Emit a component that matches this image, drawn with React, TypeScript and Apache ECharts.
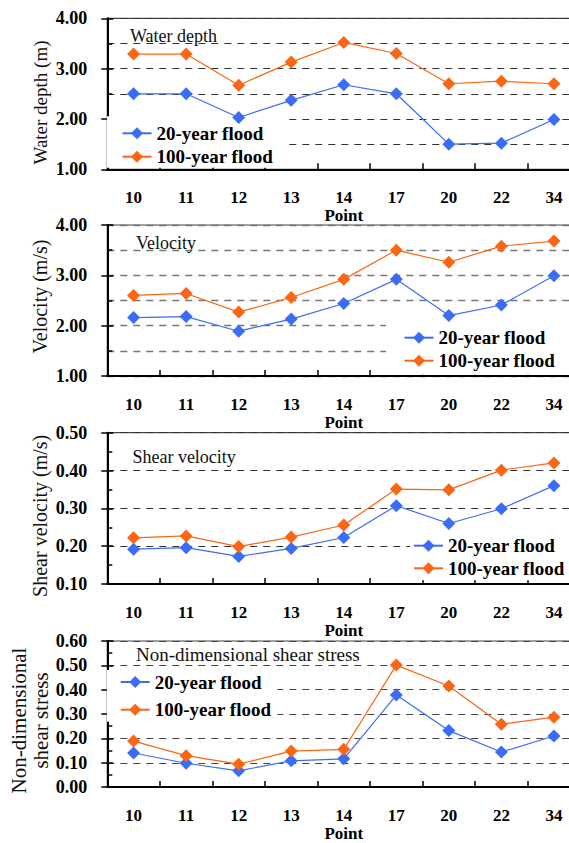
import React, { useEffect, useRef } from "react";
import * as echarts from "echarts";

const categories = ["10", "11", "12", "13", "14", "17", "20", "22", "34"];
const seriesNames = ["20-year flood", "100-year flood"];

const depth20 = [2.5, 2.5, 2.03, 2.37, 2.68, 2.5, 1.5, 1.52, 1.99];
const depth100 = [3.29, 3.29, 2.67, 3.13, 3.52, 3.3, 2.7, 2.75, 2.7];
const velocity20 = [2.16, 2.18, 1.89, 2.13, 2.44, 2.92, 2.2, 2.41, 2.99];
const velocity100 = [2.6, 2.64, 2.27, 2.56, 2.92, 3.5, 3.26, 3.58, 3.68];
const shear20 = [0.192, 0.196, 0.173, 0.194, 0.223, 0.307, 0.26, 0.299, 0.36];
const shear100 = [0.222, 0.227, 0.199, 0.224, 0.256, 0.351, 0.349, 0.401, 0.42];
const nds20 = [0.14, 0.098, 0.067, 0.108, 0.116, 0.378, 0.232, 0.144, 0.21];
const nds100 = [0.189, 0.129, 0.094, 0.148, 0.155, 0.501, 0.415, 0.258, 0.287];

const panelTitles = ["Water depth", "Velocity", "Shear velocity", "Non-dimensional shear stress"];
const axisTitles = ["Water depth (m)", "Velocity (m/s)", "Shear velocity (m/s)", "Non-dimensional\nshear stress"];
const yMins = [1, 1, 0.1, 0];
const yMaxs = [4, 4, 0.5, 0.6];
const yIntervals = [1, 1, 0.1, 0.1];

const FONT = "Liberation Serif, Times New Roman, serif";
const BLUE = "#3b6cf5";
const ORANGE = "#fa6614";

export default function App() {
  const ref = useRef<HTMLDivElement>(null);

  useEffect(() => {
    if (!ref.current) return;
    const chart = echarts.init(ref.current, undefined, { renderer: "svg" });

    const data20 = [depth20, velocity20, shear20, nds20];
    const data100 = [depth100, velocity100, shear100, nds100];

    const layout = [
      { top: 18.3, height: 151, grid: "#333", gw: 1, minorGrid: true },
      { top: 225, height: 151, grid: "#777", gw: 1.4, minorGrid: true },
      { top: 432.7, height: 151.3, grid: "#333", gw: 1, minorGrid: false },
      { top: 641, height: 151.3, grid: "#444", gw: 1, minorGrid: false },
    ];
    const titlePos = [
      { left: 130, top: 27, size: 18 },
      { left: 136, top: 234.3, size: 18 },
      { left: 132.4, top: 447.7, size: 18 },
      { left: 136, top: 645, size: 19 },
    ];
    const yTitlePos = [
      { x: 40, y: 102.5, size: 19 },
      { x: 40, y: 296.5, size: 20 },
      { x: 40, y: 515.8, size: 20 },
      { x: 30.4, y: 720.5, size: 21 },
    ];
    const legendPos = [
      { left: 107, top: 116.3, padding: [7, 14, 1, 14.5], gap: 3.4 },
      { left: 386, top: 321, padding: [6.7, 30, 4, 17.5], gap: 3 },
      { left: 410, top: 530.7, padding: [5, 20, 2, 3], gap: 2.6 },
      { left: 107, top: 670, padding: [2, 6, 2, 12.7], gap: 7.7 },
    ];

    const grids = layout.map((p) => ({
      left: 107.3,
      right: 0.8,
      top: p.top,
      height: p.height,
      show: true,
      borderColor: "#444",
      borderWidth: 1.2,
      backgroundColor: "transparent",
    }));

    const xAxes = layout.map((_, i) => ({
      gridIndex: i,
      type: "category",
      data: categories,
      boundaryGap: true,
      axisLine: { show: true, lineStyle: { color: "#000", width: 2 } },
      axisTick: { show: true, inside: true, length: 6, lineStyle: { color: "#000", width: 1.5 } },
      axisLabel: { margin: 20, fontSize: 17, fontWeight: "bold", fontFamily: FONT, color: "#000" },
      name: "Point",
      nameLocation: "middle",
      nameGap: 36,
      nameTextStyle: { fontSize: 17, fontWeight: "bold", fontFamily: FONT, color: "#000" },
      splitLine: { show: false },
    }));

    const yMain = layout.map((p, i) => ({
      gridIndex: i,
      type: "value",
      position: "left",
      min: yMins[i],
      max: yMaxs[i],
      interval: yIntervals[i],
      axisLine: { show: true, lineStyle: { color: "#000", width: 2 } },
      axisTick: { show: true, inside: true, length: 6, lineStyle: { color: "#000", width: 1.5 } },
      minorTick: { show: true, splitNumber: 2, length: 5, lineStyle: { color: "#000", width: 1.5 } },
      axisLabel: {
        margin: 20,
        fontSize: 18,
        fontWeight: "bold",
        fontFamily: FONT,
        color: "#000",
        formatter: (v: number) => v.toFixed(2),
      },
      splitLine: { show: true, lineStyle: { type: [7, 6], color: p.grid, width: p.gw } },
      minorSplitLine: { show: p.minorGrid, lineStyle: { type: [7, 6], color: p.grid, width: p.gw } },
    }));

    const yHelper = layout.map((_, i) => ({
      gridIndex: i,
      type: "value",
      position: "left",
      offset: 0,
      min: yMins[i],
      max: yMaxs[i],
      interval: yIntervals[i],
      axisLine: { show: false },
      axisTick: { show: true, inside: false, length: 6, lineStyle: { color: "#000", width: 1.5 } },
      axisLabel: { show: false },
      splitLine: { show: false },
    }));

    const series: any[] = [];
    layout.forEach((_, i) => {
      series.push({
        type: "line",
        name: seriesNames[0],
        xAxisIndex: i,
        yAxisIndex: i,
        data: data20[i],
        symbol: "diamond",
        symbolSize: 13,
        lineStyle: { width: 1.2, color: BLUE },
        itemStyle: { color: BLUE },
        z: 5,
      });
      series.push({
        type: "line",
        name: seriesNames[1],
        xAxisIndex: i,
        yAxisIndex: i,
        data: data100[i],
        symbol: "diamond",
        symbolSize: 13,
        lineStyle: { width: 1.2, color: ORANGE },
        itemStyle: { color: ORANGE },
        z: 5,
      });
    });

    const legends = legendPos.map((l) => ({
      orient: "vertical",
      left: l.left,
      top: l.top,
      padding: l.padding,
      itemGap: l.gap,
      itemWidth: 29,
      itemHeight: 15,
      backgroundColor: "#fff",
      data: seriesNames,
      selectedMode: false,
      textStyle: { fontSize: 19, fontWeight: "bold", fontFamily: FONT, color: "#000", lineHeight: 20 },
      z: 4,
    }));

    const titles = titlePos.map((t, i) => ({
      text: panelTitles[i],
      left: t.left,
      top: t.top,
      padding: 0,
      textStyle: { fontSize: t.size, fontWeight: "normal", fontFamily: FONT, color: "#111", lineHeight: t.size },
    }));

    const graphics = yTitlePos.map((t, i) => ({
      type: "text",
      x: t.x,
      y: t.y,
      rotation: Math.PI / 2,
      style: {
        text: axisTitles[i],
        fontSize: t.size,
        fontFamily: FONT,
        fill: "#111",
        align: "center",
        verticalAlign: "middle",
        lineHeight: 22,
      },
    }));

    chart.setOption({
      animation: false,
      backgroundColor: "#fff",
      title: titles,
      legend: legends,
      grid: grids,
      xAxis: xAxes,
      yAxis: [...yMain, ...yHelper],
      series,
      graphic: graphics,
    });

    return () => chart.dispose();
  }, []);

  return (
    <div
      style={{ position: "absolute", left: 0, top: 0, width: 569, height: 843, overflow: "hidden", background: "#fff" }}
    >
      <div ref={ref} style={{ position: "absolute", left: 0, top: 0, width: 581, height: 843 }} />
    </div>
  );
}
